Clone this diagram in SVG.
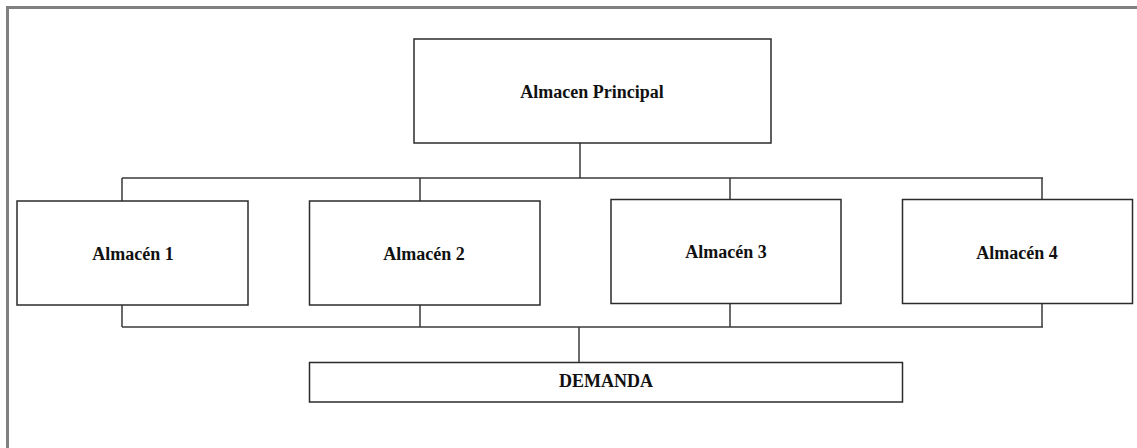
<svg xmlns="http://www.w3.org/2000/svg" width="1137" height="448" viewBox="0 0 1137 448">
  <style>
    .box { fill: #ffffff; stroke: #2b2b2b; stroke-width: 1.5; }
    .lbl { font-family: "Liberation Serif", "Times New Roman", serif; font-weight: bold; font-size: 18px; fill: #111111; text-anchor: middle; }
    .wire { fill: none; stroke: #3a3a3a; stroke-width: 1.5; }
    .frame { fill: none; stroke: #808080; stroke-width: 3; }
  </style>
  <rect width="1137" height="448" fill="#ffffff"/>
  <!-- page frame: only the top and left edges are visible -->
  <path class="frame" d="M7.5 448 V7.5 H1137"/>

  <g id="connectors">
    <!-- principal to the upper bus -->
    <path class="wire" d="M580 143 V178"/>
    <path class="wire" d="M122 178 H1043"/>
    <path class="wire" d="M122 178 V201 M420 178 V201 M730 178 V200 M1042 178 V200"/>
    <!-- warehouses to the lower bus -->
    <path class="wire" d="M122 305 V327 M420 305 V327 M730 304 V327 M1042 304 V327"/>
    <path class="wire" d="M122 327 H1043"/>
    <path class="wire" d="M579 327 V362"/>
  </g>

  <g id="principal">
    <rect class="box" x="414" y="39" width="357" height="104"/>
    <text class="lbl" x="592" y="98">Almacen Principal</text>
  </g>
  <g id="almacen1">
    <rect class="box" x="17" y="201" width="231" height="104"/>
    <text class="lbl" x="133" y="260">Almacén 1</text>
  </g>
  <g id="almacen2">
    <rect class="box" x="309.5" y="201" width="230.5" height="104"/>
    <text class="lbl" x="424" y="260">Almacén 2</text>
  </g>
  <g id="almacen3">
    <rect class="box" x="611" y="199.5" width="230" height="104"/>
    <text class="lbl" x="726" y="258">Almacén 3</text>
  </g>
  <g id="almacen4">
    <rect class="box" x="902.5" y="199.5" width="230" height="104"/>
    <text class="lbl" x="1017" y="259">Almacén 4</text>
  </g>
  <g id="demanda">
    <rect class="box" x="309.5" y="362.5" width="593" height="39.5"/>
    <text class="lbl" x="606" y="387">DEMANDA</text>
  </g>
</svg>
